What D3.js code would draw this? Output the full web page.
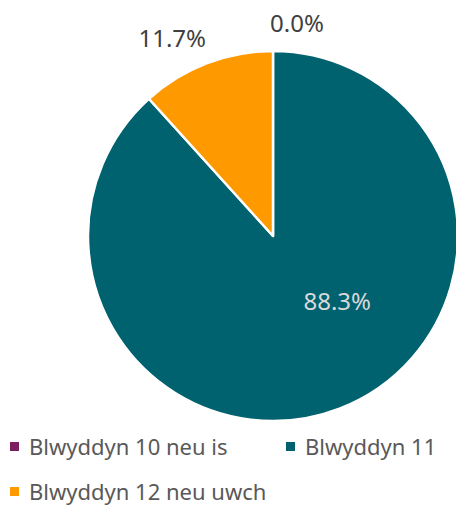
<!DOCTYPE html>
<html>
<head>
<meta charset="utf-8">
<script src="https://cdn.jsdelivr.net/npm/d3@7"></script>
<style>
  body { margin: 0; background: #fff; }
  svg { display: block; font-family: "Noto Sans", "Open Sans", sans-serif; }
</style>
</head>
<body>
<div id="chart"></div>
<script>
var categories = ["Blwyddyn 10 neu is", "Blwyddyn 11", "Blwyddyn 12 neu uwch"];
var values = [0.0, 88.3, 11.7];
var colours = ["#7b1f5e", "#00616f", "#ff9900"];

var w = 456, h = 506;
var cx = 273, cy = 236, r = 185;

var svg = d3.select("#chart")
    .append("svg")
    .attr("width", w)
    .attr("height", h);

var data = categories.map(function(c, i) { return {name: c, value: values[i], colour: colours[i]}; });

var pie = d3.pie()
    .sort(null)
    .value(function(d) { return d.value; });

var arc = d3.arc().innerRadius(0).outerRadius(r);

var arcs = pie(data);

var g = svg.append("g").attr("transform", "translate(" + cx + "," + cy + ")");

g.selectAll("path")
    .data(arcs)
    .enter()
    .append("path")
    .attr("d", arc)
    .attr("fill", function(d) { return d.data.colour; })
    .attr("stroke", "#fff")
    .attr("stroke-width", 2.5)
    .attr("stroke-linejoin", "round");

// labels: big slice inside, small slices outside
var inner = d3.arc().innerRadius(r * 0.5).outerRadius(r * 0.5);
var outer = d3.arc().innerRadius(r * 1.17).outerRadius(r * 1.17);
var nudge = [[24, 4], [31, -21], [-23, 5]];

g.selectAll("text.lbl")
    .data(arcs)
    .enter()
    .append("text")
    .attr("class", "lbl")
    .attr("transform", function(d, i) {
      var p = d.data.value > 50 ? inner.centroid(d) : outer.centroid(d);
      return "translate(" + (p[0] + nudge[i][0]) + "," + (p[1] + nudge[i][1]) + ")";
    })
    .attr("text-anchor", "middle")
    .attr("dy", "0.35em")
    .attr("font-size", 24)
    .attr("fill", function(d) { return d.data.value > 50 ? "#d9d9d9" : "#404040"; })
    .text(function(d) { return d.data.value.toFixed(1) + "%"; });

// legend
var legendX = d3.scalePoint().domain([0, 1]).range([10, 286]);
var legend = svg.append("g");
var items = legend.selectAll("g")
    .data(data)
    .enter()
    .append("g")
    .attr("transform", function(d, i) {
      return "translate(" + legendX(i % 2) + "," + (442 + Math.floor(i / 2) * 45) + ")";
    });

items.append("rect")
    .attr("width", 9)
    .attr("height", 9)
    .attr("fill", function(d) { return d.colour; });

items.append("text")
    .attr("x", 19)
    .attr("y", 5)
    .attr("dy", "0.35em")
    .attr("font-size", 22)
    .attr("fill", "#595959")
    .text(function(d) { return d.name; });
</script>
</body>
</html>
